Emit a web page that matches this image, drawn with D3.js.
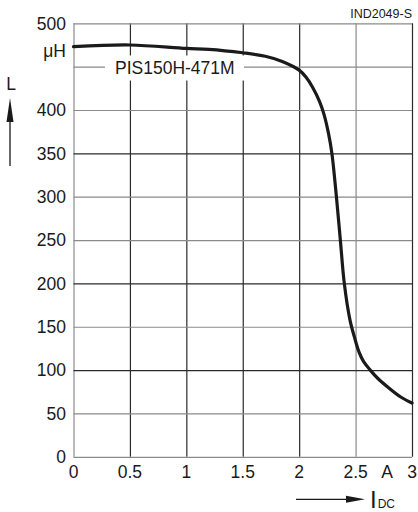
<!DOCTYPE html>
<html>
<head>
<meta charset="utf-8">
<title>PIS150H-471M inductance vs current</title>
<script src="https://cdn.jsdelivr.net/npm/d3@7"></script>
<style>
  body { margin: 0; background: #fff; }
  text { font-family: "Liberation Sans", Arial, sans-serif; fill: #1a1a1a; }
</style>
</head>
<body>
<svg id="chart" width="418" height="512"></svg>
<script>
// values
var current = [0, 0.5, 1.0, 1.2, 1.5, 1.7, 1.85, 2.0, 2.06, 2.12, 2.18, 2.22, 2.26, 2.29, 2.33, 2.365, 2.4, 2.45, 2.49, 2.53, 2.57, 2.63, 2.7, 2.78, 2.9, 3.0];
var inductance = [473, 475, 471, 470, 466, 462, 456, 446, 438, 426, 410, 395, 373, 350, 300, 250, 200, 158, 138, 121, 110, 100, 90, 81, 69, 62];

var xTicks = [0, 0.5, 1, 1.5, 2, 2.5, 3];
var xLabels = ["0", "0.5", "1", "1.5", "2", "2.5", "3"];
var yTicks = [0, 50, 100, 150, 200, 250, 300, 350, 400, 450, 500];
var yLabels = ["0", "50", "100", "150", "200", "250", "300", "350", "400", "", "500"];
// grid lines that print darker in the scan
var darkX = [0.5, 1, 1.5, 2, 3];
var darkY = [100, 200, 350];

var svg = d3.select("#chart");
svg.append("rect").attr("width", 418).attr("height", 512).attr("fill", "#fff");

var x = d3.scaleLinear().domain([0, 3]).range([73.5, 412]);
var y = d3.scaleLinear().domain([0, 500]).range([456.8, 23.3]);

// vertical grid
var gx = svg.append("g").attr("transform", "translate(0," + y(0) + ")")
  .call(d3.axisBottom(x).tickValues(xTicks).tickSize(-(y(0) - y(500))).tickFormat(""));
gx.select(".domain").remove();
gx.selectAll(".tick line")
  .attr("stroke", function(d){ return darkX.indexOf(d) != -1 ? "#2a2a2a" : "#8a8a8a"; })
  .attr("stroke-width", 1.2);

// horizontal grid
var gy = svg.append("g").attr("transform", "translate(" + x(0) + ",0)")
  .call(d3.axisLeft(y).tickValues(yTicks).tickSize(-(x(3) - x(0))).tickFormat(""));
gy.select(".domain").remove();
gy.selectAll(".tick line")
  .attr("stroke", function(d){ return darkY.indexOf(d) != -1 ? "#2a2a2a" : "#8a8a8a"; })
  .attr("stroke-width", 1.2);

// y tick labels
svg.append("g").selectAll("text")
  .data(yTicks).enter()
  .append("text")
  .attr("x", 66)
  .attr("y", function(d){ return y(d); })
  .attr("dy", "0.36em")
  .attr("text-anchor", "end")
  .attr("font-size", "17.5px")
  .text(function(d, i){ return yLabels[i]; });

svg.append("text")
  .attr("x", 66).attr("y", y(468)).attr("dy", "0.36em")
  .attr("text-anchor", "end").attr("font-size", "17.5px")
  .text("μH");

// x tick labels
svg.append("g").selectAll("text")
  .data(xTicks).enter()
  .append("text")
  .attr("x", function(d){ return x(d); })
  .attr("y", 478.3)
  .attr("text-anchor", "middle")
  .attr("font-size", "17.5px")
  .text(function(d, i){ return xLabels[i]; });

svg.append("text")
  .attr("x", x(2.78)).attr("y", 478.3)
  .attr("text-anchor", "middle").attr("font-size", "17.5px")
  .text("A");

// part label with white box over the grid
svg.append("rect")
  .attr("x", 105).attr("y", 55.5).attr("width", 139).attr("height", 25)
  .attr("fill", "#fff");
svg.append("text")
  .attr("x", 115).attr("y", 74)
  .attr("font-size", "17.5px")
  .text("PIS150H-471M");

// curve
var line = d3.line()
  .x(function(d){ return x(d[0]); })
  .y(function(d){ return y(d[1]); })
  .curve(d3.curveCatmullRom.alpha(0.5));

svg.append("path")
  .datum(current.map(function(c, i){ return [c, inductance[i]]; }))
  .attr("d", line)
  .attr("fill", "none")
  .attr("stroke", "#1a1a1a")
  .attr("stroke-width", 3.2)
  .attr("stroke-linecap", "round")
  .attr("stroke-linejoin", "round");

// L axis name with arrow
svg.append("text")
  .attr("x", 11).attr("y", 90)
  .attr("text-anchor", "middle")
  .attr("font-size", "17.5px")
  .text("L");
svg.append("line")
  .attr("x1", 10).attr("x2", 10).attr("y1", 166).attr("y2", 118)
  .attr("stroke", "#1a1a1a").attr("stroke-width", 1.3);
svg.append("path")
  .attr("d", "M10,98 L13.5,122 L6.5,122 Z")
  .attr("fill", "#1a1a1a");

// I_DC axis name with arrow
svg.append("line")
  .attr("x1", 296).attr("x2", 350).attr("y1", 499.3).attr("y2", 499.3)
  .attr("stroke", "#1a1a1a").attr("stroke-width", 1.3);
svg.append("path")
  .attr("d", "M365,499.3 L346,495.8 L346,502.8 Z")
  .attr("fill", "#1a1a1a");
var idc = svg.append("text")
  .attr("x", 370).attr("y", 507.7)
  .attr("font-size", "24px");
idc.append("tspan").text("I");
idc.append("tspan").attr("font-size", "12px").attr("dx", "1").text("DC");

// drawing number
svg.append("text")
  .attr("x", 412).attr("y", 17.5)
  .attr("text-anchor", "end")
  .attr("font-size", "12.5px")
  .text("IND2049-S");
</script>
</body>
</html>
